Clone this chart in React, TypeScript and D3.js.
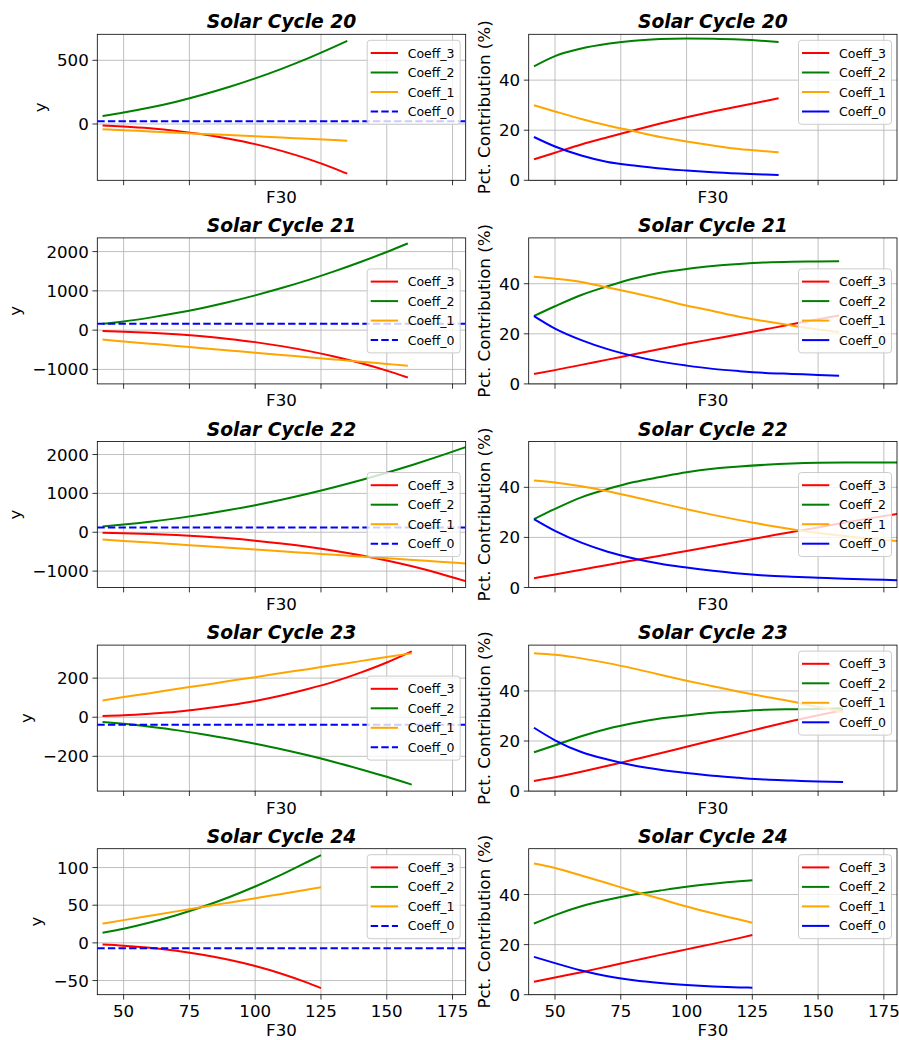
import React from 'react';
import * as d3 from 'd3';

// ---------- shared axis data ----------
const xDomain = [40, 180];
const xTicks = [50, 75, 100, 125, 150, 175];
const seriesNames = ['Coeff_3', 'Coeff_2', 'Coeff_1', 'Coeff_0'];
const seriesColors = ['#ff0000', '#008000', '#ffa500', '#0000ff'];
const cycleTitles = ['Solar Cycle 20', 'Solar Cycle 21', 'Solar Cycle 22', 'Solar Cycle 23', 'Solar Cycle 24'];

const leftYDomains = [[-442, 704], [-1369, 2349], [-1422, 2335], [-378, 369], [-68.8, 125]];
const leftYTicks = [[0, 500], [-1000, 0, 1000, 2000], [-1000, 0, 1000, 2000], [-200, 0, 200], [-50, 0, 50, 100]];
const rightYDomain = [0, 58.3];
const rightYTicks = [0, 20, 40];
const leftLegendLoc = ['upper', 'center', 'center', 'center', 'upper'];
const rightLegendLoc = ['upper', 'center', 'center', 'upper', 'upper'];

// ---------- Solar Cycle 20 ----------
const c20X = [42, 50, 60, 70, 80, 90, 100, 110, 120, 130, 135];
const c20Coeff3 = [-12, -20, -34, -54, -81, -116, -158, -211, -274, -348, -390];
const c20Coeff2 = [63, 90, 129, 175, 229, 290, 358, 433, 515, 605, 652];
const c20Coeff1 = [-41, -49, -58, -68, -78, -87, -97, -107, -116, -126, -131];
const c20Coeff0 = 21;
const c20Pct3 = [8.4, 11, 14.3, 17.2, 20, 22.7, 25.2, 27.5, 29.6, 31.7, 32.8];
const c20Pct2 = [45.5, 49.6, 52.6, 54.5, 55.7, 56.4, 56.6, 56.5, 56.2, 55.6, 55.2];
const c20Pct1 = [30, 27.5, 24.5, 21.9, 19.6, 17.3, 15.5, 13.9, 12.5, 11.6, 11.2];
const c20Pct0 = [17.3, 13.5, 9.9, 7.3, 5.9, 4.7, 3.9, 3.2, 2.7, 2.3, 2.1];

// ---------- Solar Cycle 21 ----------
const c21X = [42, 50, 60, 70, 80, 90, 100, 110, 120, 130, 140, 150, 158];
const c21Coeff3 = [-23, -38, -66, -105, -156, -223, -305, -407, -528, -671, -838, -1031, -1205];
const c21Coeff2 = [160, 221, 319, 434, 566, 717, 885, 1071, 1274, 1496, 1735, 1991, 2209];
const c21Coeff1 = [-241, -287, -344, -401, -459, -516, -573, -630, -688, -745, -802, -860, -906];
const c21Coeff0 = 162;
const c21Pct3 = [4, 5.5, 7.6, 9.7, 11.8, 13.9, 16, 17.9, 19.8, 21.8, 23.8, 25.8, 27.3];
const c21Pct2 = [27.1, 31, 35.5, 39, 42.1, 44.4, 45.9, 47.1, 47.9, 48.5, 48.8, 48.9, 49];
const c21Pct1 = [42.8, 42, 40.7, 38.5, 36.3, 33.9, 31.3, 29.1, 26.8, 25, 23.3, 21.7, 20.7];
const c21Pct0 = [27.1, 22.1, 17.5, 13.9, 11.1, 8.9, 7.3, 6, 5.1, 4.4, 4, 3.6, 3.3];

// ---------- Solar Cycle 22 ----------
const c22X = [42, 50, 60, 70, 80, 90, 100, 110, 120, 130, 140, 150, 160, 170, 180];
const c22Coeff3 = [-16, -27, -47, -74, -111, -157, -216, -287, -373, -474, -592, -729, -884, -1061, -1259];
const c22Coeff2 = [148, 197, 270, 357, 457, 570, 697, 837, 990, 1157, 1337, 1531, 1738, 1958, 2191];
const c22Coeff1 = [-187, -223, -267, -312, -356, -401, -446, -490, -535, -579, -624, -668, -713, -757, -802];
const c22Coeff0 = 121;
const c22Pct3 = [3.7, 5.2, 7.1, 9, 10.9, 12.7, 14.6, 16.5, 18.4, 20.3, 22.2, 24, 25.9, 27.7, 29.4];
const c22Pct2 = [27.3, 31.4, 36, 39.3, 42.1, 44.1, 46, 47.4, 48.3, 49, 49.5, 49.8, 49.9, 49.9, 49.9];
const c22Pct1 = [42.7, 41.9, 40.4, 38.4, 36.1, 33.7, 31.3, 29, 26.9, 25, 23.3, 21.8, 20.6, 19.5, 18.6];
const c22Pct0 = [27.3, 22.6, 17.9, 14.3, 11.6, 9.5, 8, 6.7, 5.6, 4.8, 4.3, 3.9, 3.5, 3.2, 2.9];

// ---------- Solar Cycle 23 ----------
const c23X = [42, 50, 60, 70, 80, 90, 100, 110, 120, 130, 140, 150, 159.5];
const c23Coeff3 = [6, 10, 18, 28, 43, 61, 83, 111, 144, 182, 228, 280, 337];
const c23Coeff2 = [-24, -34, -49, -66, -87, -110, -136, -164, -195, -229, -266, -305, -345];
const c23Coeff1 = [86, 103, 123, 144, 164, 185, 205, 226, 246, 267, 287, 308, 327];
const c23Coeff0 = -39;
const c23Pct3 = [4, 5.5, 7.7, 10.1, 12.6, 15.1, 17.7, 20.3, 22.9, 25.5, 28, 30.3, 32.3];
const c23Pct2 = [15.5, 18.3, 21.9, 24.9, 27.2, 29, 30.2, 31.3, 31.9, 32.5, 32.7, 32.8, 33];
const c23Pct1 = [55, 54.4, 53, 51.1, 48.9, 46.5, 44.1, 41.9, 39.7, 37.7, 35.8, 33.6, 31.6];
const c23Pct0 = [25.3, 20.3, 15.6, 12.6, 10.2, 8.5, 7.2, 6.1, 5.3, 4.6, 4.2, 3.8, 3.6];

// ---------- Solar Cycle 24 ----------
const c24X = [42, 50, 60, 70, 80, 90, 100, 110, 120, 125];
const c24Coeff3 = [-2.3, -3.8, -6.6, -10.5, -15.7, -22.4, -30.7, -40.9, -53.1, -60];
const c24Coeff2 = [13.5, 18.8, 27, 36.7, 47.9, 60.6, 74.8, 90.5, 107.7, 116.5];
const c24Coeff1 = [25.6, 30.2, 36, 41.8, 47.6, 53.4, 59.2, 65, 70.8, 73.7];
const c24Coeff0 = -7.1;
const c24Pct3 = [5.2, 6.9, 9.0, 11.3, 13.6, 15.9, 18.1, 20.3, 22.6, 23.8];
const c24Pct2 = [28.4, 31.8, 35.3, 37.9, 40, 41.6, 43.1, 44.3, 45.3, 45.7];
const c24Pct1 = [52.4, 50.6, 47.6, 44.5, 41.3, 38.3, 35.2, 32.5, 30, 28.7];
const c24Pct0 = [15.1, 12.6, 9.7, 7.4, 5.8, 4.7, 3.9, 3.3, 2.9, 2.8];

const cycles = [
  { x: c20X, coeffs: [c20Coeff3, c20Coeff2, c20Coeff1], c0: c20Coeff0, pct: [c20Pct3, c20Pct2, c20Pct1, c20Pct0] },
  { x: c21X, coeffs: [c21Coeff3, c21Coeff2, c21Coeff1], c0: c21Coeff0, pct: [c21Pct3, c21Pct2, c21Pct1, c21Pct0] },
  { x: c22X, coeffs: [c22Coeff3, c22Coeff2, c22Coeff1], c0: c22Coeff0, pct: [c22Pct3, c22Pct2, c22Pct1, c22Pct0] },
  { x: c23X, coeffs: [c23Coeff3, c23Coeff2, c23Coeff1], c0: c23Coeff0, pct: [c23Pct3, c23Pct2, c23Pct1, c23Pct0] },
  { x: c24X, coeffs: [c24Coeff3, c24Coeff2, c24Coeff1], c0: c24Coeff0, pct: [c24Pct3, c24Pct2, c24Pct1, c24Pct0] },
];

// ---------- layout ----------
const W = 899;
const H = 1040;
const FONT = 'DejaVu Sans, Liberation Sans, sans-serif';
const TICK_FS = 16.67;
const colX = [[97.3, 465.7], [528.7, 897]];
const rowTop0 = 34.3;
const rowStep = 203.6;
const axH = 146;

const fmt = (v: number) => (v < 0 ? '\u2212' + String(-v) : String(v));
const textWidth = (s: string, fs: number) => {
  let w = 0;
  for (const ch of s) {
    if (ch === '\u2212') w += 0.838;
    else if (ch === '.') w += 0.318;
    else w += 0.636;
  }
  return w * fs;
};

type LineSpec = { xs: number[]; ys: number[]; color: string; dashed: boolean };

function Panel(props: {
  x0: number; x1: number; top: number; yDomain: number[]; yTicks: number[];
  title: string; lines: LineSpec[]; ylabel: string; ylabelX: number;
  showXTickLabels: boolean; legendLoc: string; legendDash0: boolean; clipId: string;
}) {
  const { x0, x1, top, yDomain, yTicks, title, lines, ylabel, ylabelX, showXTickLabels, legendLoc, legendDash0, clipId } = props;
  const bottom = top + axH;
  const xs = d3.scaleLinear().domain(xDomain).range([x0, x1]);
  const ys = d3.scaleLinear().domain(yDomain).range([bottom, top]);
  const lineGen = d3.line<[number, number]>()
    .x(d => xs(d[0]))
    .y(d => ys(d[1]))
    .curve(d3.curveMonotoneX);

  const legW = 93;
  const legH = 84;
  const legX = x1 - 5.5 - legW;
  const legY = legendLoc === 'upper' ? top + 6 : (top + bottom) / 2 - legH / 2;

  return (
    <g>
      <defs>
        <clipPath id={clipId}>
          <rect x={x0} y={top} width={x1 - x0} height={axH} />
        </clipPath>
      </defs>
      {/* grid */}
      {xTicks.map(t => (
        <line key={'gx' + t} x1={xs(t)} x2={xs(t)} y1={top} y2={bottom} stroke="#b0b0b0" strokeWidth={0.8} />
      ))}
      {yTicks.map(t => (
        <line key={'gy' + t} x1={x0} x2={x1} y1={ys(t)} y2={ys(t)} stroke="#b0b0b0" strokeWidth={0.8} />
      ))}
      {/* data lines */}
      <g clipPath={`url(#${clipId})`}>
        {lines.map((l, i) => (
          <path
            key={'l' + i}
            d={lineGen(l.xs.map((x, j) => [x, l.ys[j]] as [number, number])) || ''}
            fill="none"
            stroke={l.color}
            strokeWidth={2}
            strokeDasharray={l.dashed ? '7.4 3.2' : undefined}
          />
        ))}
      </g>
      {/* spines */}
      <rect x={x0} y={top} width={x1 - x0} height={axH} fill="none" stroke="#000" strokeWidth={0.8} />
      {/* x ticks */}
      {xTicks.map(t => (
        <g key={'xt' + t}>
          <line x1={xs(t)} x2={xs(t)} y1={bottom} y2={bottom + 4.9} stroke="#000" strokeWidth={0.8} />
          {showXTickLabels && (
            <text x={xs(t)} y={bottom + 22.4} textAnchor="middle" fontSize={TICK_FS} fontFamily={FONT} fill="#000">
              {fmt(t)}
            </text>
          )}
        </g>
      ))}
      {/* y ticks */}
      {yTicks.map(t => (
        <g key={'yt' + t}>
          <line x1={x0 - 4.9} x2={x0} y1={ys(t)} y2={ys(t)} stroke="#000" strokeWidth={0.8} />
          <text x={x0 - 8.5} y={ys(t)} dy="0.36em" textAnchor="end" fontSize={TICK_FS} fontFamily={FONT} fill="#000">
            {fmt(t)}
          </text>
        </g>
      ))}
      {/* x label */}
      <text x={(x0 + x1) / 2} y={bottom + (showXTickLabels ? 41.5 : 22.4)} textAnchor="middle" fontSize={TICK_FS} fontFamily={FONT} fill="#000">
        F30
      </text>
      {/* y label */}
      <text
        transform={`translate(${ylabelX},${(top + bottom) / 2}) rotate(-90)`}
        textAnchor="middle"
        fontSize={TICK_FS}
        fontFamily={FONT}
        fill="#000"
      >
        {ylabel}
      </text>
      {/* title */}
      <text x={(x0 + x1) / 2} y={top - 6} textAnchor="middle" fontSize={18.7} fontWeight="bold" fontStyle="italic" fontFamily={FONT} fill="#000">
        {title}
      </text>
      {/* legend */}
      <g>
        <rect x={legX} y={legY} width={legW} height={legH} rx={3} ry={3} fill="#ffffff" fillOpacity={0.8} stroke="#cccccc" strokeWidth={1} />
        {seriesNames.map((name, i) => {
          const cy = legY + 12.7 + i * 19.5;
          const dashed = legendDash0 && i === 3;
          return (
            <g key={name}>
              <line x1={legX + 3.5} x2={legX + 30.8} y1={cy} y2={cy} stroke={seriesColors[i]} strokeWidth={2}
                strokeDasharray={dashed ? '7.4 3.2' : undefined} />
              <text x={legX + 40.5} y={cy} dy="0.36em" fontSize={12.5} fontFamily={FONT} fill="#000">
                {name}
              </text>
            </g>
          );
        })}
      </g>
    </g>
  );
}

export default function App() {
  return (
    <svg
      width={W}
      height={H}
      viewBox={`0 0 ${W} ${H}`}
      style={{ position: 'absolute', left: 0, top: 0, background: '#fff' }}
    >
      <rect x={0} y={0} width={W} height={H} fill="#fff" />
      {cycles.map((c, r) => {
        const top = rowTop0 + r * rowStep;
        const isLast = r === cycles.length - 1;
        const lt = leftYTicks[r];
        const maxLabelW = Math.max(...lt.map(t => textWidth(fmt(t), TICK_FS)));
        const leftYLabelX = colX[0][0] - 8.5 - maxLabelW - 11.3;
        const leftLines: LineSpec[] = [
          ...c.coeffs.map((ys, i) => ({ xs: c.x, ys, color: seriesColors[i], dashed: false })),
          { xs: xDomain, ys: [c.c0, c.c0], color: seriesColors[3], dashed: true },
        ];
        const rightLines: LineSpec[] = c.pct.map((ys, i) => ({ xs: c.x, ys, color: seriesColors[i], dashed: false }));
        return (
          <g key={r}>
            <Panel
              x0={colX[0][0]} x1={colX[0][1]} top={top} yDomain={leftYDomains[r]} yTicks={lt}
              title={cycleTitles[r]} lines={leftLines} ylabel="y" ylabelX={leftYLabelX}
              showXTickLabels={isLast} legendLoc={leftLegendLoc[r]} legendDash0={true} clipId={`clipL${r}`}
            />
            <Panel
              x0={colX[1][0]} x1={colX[1][1]} top={top} yDomain={rightYDomain} yTicks={rightYTicks}
              title={cycleTitles[r]} lines={rightLines} ylabel="Pct. Contribution (%)" ylabelX={489.5}
              showXTickLabels={isLast} legendLoc={rightLegendLoc[r]} legendDash0={false} clipId={`clipR${r}`}
            />
          </g>
        );
      })}
    </svg>
  );
}
